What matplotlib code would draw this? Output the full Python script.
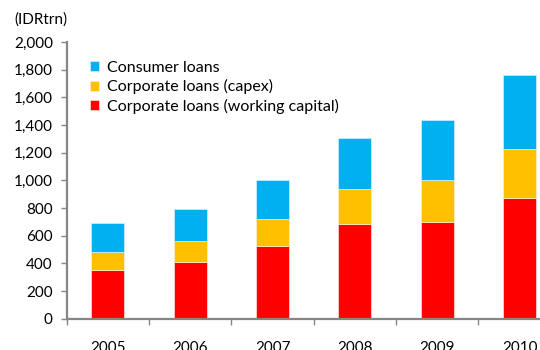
import numpy as np
import matplotlib
matplotlib.use('Agg')
from matplotlib import pyplot as plt
from matplotlib.ticker import FuncFormatter, FixedLocator

plt.rcParams['font.family'] = ['Lato', 'DejaVu Sans']

years = ['2005', '2006', '2007', '2008', '2009', '2010']
working_capital = [350, 410, 525, 685, 700, 875]
capex = [135, 150, 195, 255, 300, 350]
consumer = [210, 230, 280, 365, 435, 540]

c_red = '#FF0000'
c_yellow = '#FFC000'
c_blue = '#00B0F0'
grey = '#868686'

fig = plt.figure(figsize=(5.4, 3.5), dpi=100)
ax = fig.add_axes([0.1235, 0.0894, 0.915, 0.7906])

x = np.arange(len(years))
w = 0.4
b1 = ax.bar(x, working_capital, w, color=c_red, edgecolor='#FFE0E0', linewidth=0.5,
            label='Corporate loans (working capital)')
b2 = ax.bar(x, capex, w, bottom=working_capital, color=c_yellow, edgecolor='#FFF0D0',
            linewidth=0.5, label='Corporate loans (capex)')
bottom2 = np.add(working_capital, capex)
b3 = ax.bar(x, consumer, w, bottom=bottom2, color=c_blue, edgecolor='#D0F0FF',
            linewidth=0.5, label='Consumer loans')

ax.set_xlim(-0.5, len(years) - 0.5)
ax.set_ylim(0, 2000)
ax.set_yticks(np.arange(0, 2001, 200))
ax.yaxis.set_major_formatter(FuncFormatter(lambda v, p: f'{int(v):,}'))

# year labels at bar centres, tick marks at category borders
ax.set_xticks(x)
ax.set_xticklabels(years)
ax.xaxis.set_minor_locator(FixedLocator(np.arange(-0.5, len(years), 1.0)))
ax.tick_params(axis='x', which='major', length=0, pad=16, labelsize=11)
ax.tick_params(axis='x', which='minor', length=4, width=1, color=grey, direction='out')
ax.tick_params(axis='y', length=4, width=1, color=grey, labelsize=11, pad=6)

for side in ['top', 'right']:
    ax.spines[side].set_visible(False)
for side in ['left', 'bottom']:
    ax.spines[side].set_color(grey)
    ax.spines[side].set_linewidth(1.6)

fig.text(0.026, 0.945, '(IDRtrn)', fontsize=11, ha='left', va='center')

ax.legend(handles=[b3, b2, b1], loc='upper left', bbox_to_anchor=(0.035, 0.955),
          frameon=False, fontsize=11.5, handlelength=0.55, handleheight=0.55,
          handletextpad=0.5, labelspacing=0.28, borderaxespad=0)

fig.savefig('out.png', dpi=100)
